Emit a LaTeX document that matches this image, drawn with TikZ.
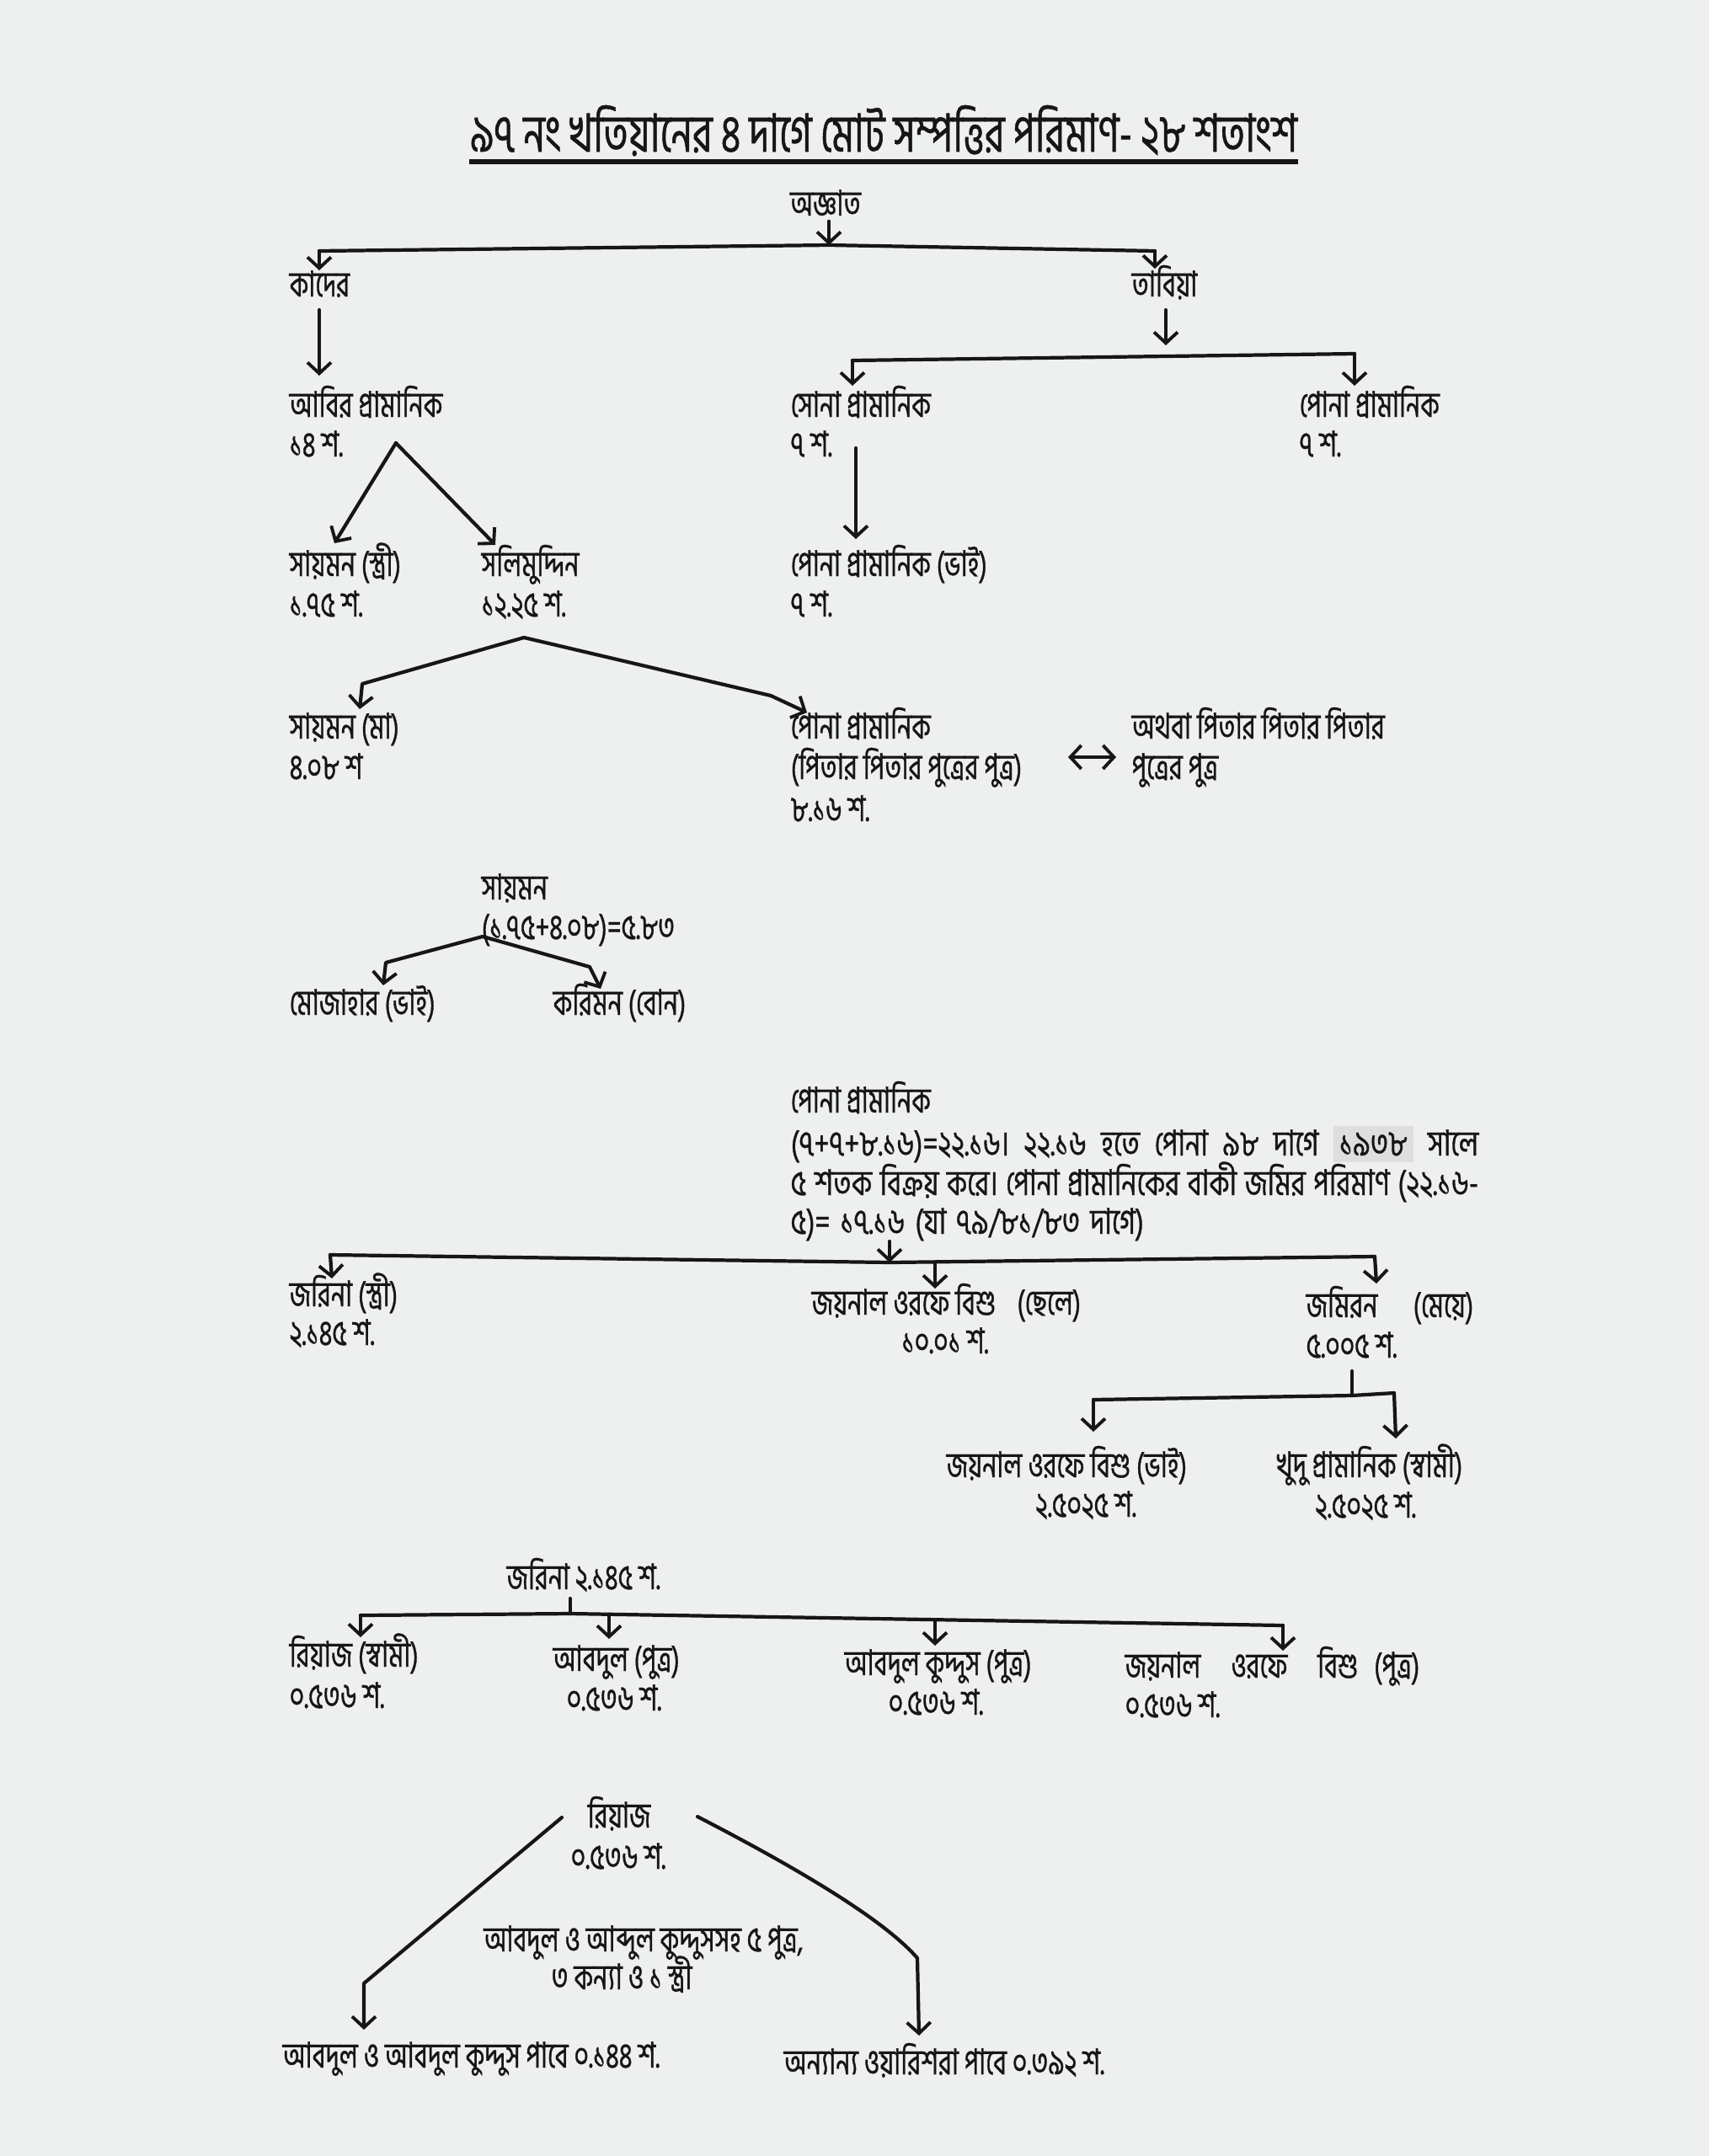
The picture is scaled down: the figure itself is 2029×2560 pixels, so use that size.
\documentclass[tikz,border=0pt]{standalone}
\usepackage{fontspec}
\newfontfamily\bn[Script=Bengali,FakeStretch=0.72,FakeBold=0.8]{Hind Siliguri}
\newfontfamily\bnw[Script=Bengali,FakeStretch=0.77,FakeBold=0.8]{Hind Siliguri}
\usetikzlibrary{arrows.meta,calc}
\definecolor{paper}{RGB}{238,239,239}
\definecolor{ink}{RGB}{22,22,22}
\definecolor{hl}{RGB}{222,222,222}
\tikzset{
  txt/.style={font=\bn\fontsize{12}{14}\selectfont, text=ink, inner sep=0pt, anchor=base west},
  txtc/.style={txt, anchor=base},
  para/.style={txt, font=\bnw\fontsize{12}{14}\selectfont},
  ttl/.style={font=\bn\fontsize{17.8}{20}\selectfont, text=ink, inner sep=0pt, anchor=base},
  ln/.style={draw=ink, line width=1.2pt, line cap=round, line join=round},
  arr/.style={ln, -{Straight Barb[length=0.13cm,width=0.28cm,line width=1.1pt]}},
  dblarr/.style={ln, {Straight Barb[length=0.13cm,width=0.28cm,line width=1.1pt]}-{Straight Barb[length=0.13cm,width=0.28cm,line width=1.1pt]}}
}
\begin{document}
\begin{tikzpicture}[x=0.01cm,y=-0.01cm]
\fill[paper] (0,0) rectangle (2029,2560);
\useasboundingbox (0,0) rectangle (2029,2560);

% title
\node[ttl] (title) at (1049,180) {৯৭ নং খতিয়ানের ৪ দাগে মোট সম্পত্তির পরিমাণ- ২৮ শতাংশ};
\draw[ink, line width=1.8pt] ($(title.base west)+(0,12)$) -- ($(title.base east)+(0,12)$);

% level 0
\node[txtc] (unk) at (980,256) {অজ্ঞাত};
\coordinate (b1L) at (379,298);
\coordinate (b1M) at (984,291);
\coordinate (b1R) at (1371,298);
\draw[arr] ($(unk.south)+(4,6)$) -- (b1M);
\draw[ln] (b1L) -- (b1M) -- (b1R);
\coordinate (kaderT) at (379,321);
\coordinate (tabiyaT) at (1371,319);
\draw[arr] (b1L) -- (kaderT);
\draw[arr] (b1R) -- (tabiyaT);

\node[txt] (kader) at (343,352) {কাদের};
\node[txt] (tabiya) at (1343,352) {তাবিয়া};

\coordinate (abirT) at (379,446);
\draw[arr] (379,368) -- (abirT);
\coordinate (tabB) at (1384,410);
\draw[arr] (1384,368) -- (tabB);

\coordinate (b2L) at (1012,428);
\coordinate (b2R) at (1608,420);
\draw[ln] (b2L) -- (b2R);
\draw[arr] (b2L) -- (1012,458);
\draw[arr] (b2R) -- (1608,458);

% row 3
\node[txt] (abir) at (343,495) {আবির প্রামানিক};
\node[txt] (abirS) at (343,542) {১৪ শ.};
\node[txt] (sona) at (938,495) {সোনা প্রামানিক};
\node[txt] (sonaS) at (938,542) {৭ শ.};
\node[txt] (pona1) at (1542,495) {পোনা প্রামানিক};
\node[txt] (pona1S) at (1542,542) {৭ শ.};

\coordinate (A1) at (470,526);
\draw[arr] (A1) -- (397,645);
\draw[arr] (A1) -- (588,647);
\draw[arr] (1016,532) -- (1016,640);

% row 4
\node[txt] (saym1) at (343,684) {সায়মন (স্ত্রী)};
\node[txt] (saym1S) at (343,732) {১.৭৫ শ.};
\node[txt] (salim) at (571,684) {সলিমুদ্দিন};
\node[txt] (salimS) at (571,732) {১২.২৫ শ.};
\node[txt] (pona2) at (938,684) {পোনা প্রামানিক (ভাই)};
\node[txt] (pona2S) at (938,732) {৭ শ.};

\coordinate (A2) at (622,757);
\draw[arr] (A2) -- (430,812) -- (427,842);
\draw[arr] (A2) -- (915,826) -- (958,846);

% row 5
\node[txt] (saym2) at (343,877) {সায়মন (মা)};
\node[txt] (saym2S) at (343,925) {৪.০৮ শ};
\node[txt] (pona3) at (938,877) {পোনা প্রামানিক};
\node[txt] (pona3R) at (938,925) {(পিতার পিতার পুত্রের পুত্র)};
\node[txt] (pona3S) at (938,975) {৮.১৬ শ.};
\node[txt] (alt1) at (1343,877) {অথবা পিতার পিতার পিতার};
\node[txt] (alt2) at (1343,925) {পুত্রের পুত্র};
\coordinate (dL) at (1268,899);
\coordinate (dR) at (1325,899);
\draw[dblarr] (dL) -- (dR);

% sayman
\node[txt] (saym3) at (571,1068) {সায়মন};
\node[txt] (saym3S) at (571,1115) {(১.৭৫+৪.০৮)=৫.৮৩};
\coordinate (A3) at (573,1112);
\draw[arr] (A3) -- (458,1143) -- (455,1170);
\draw[arr] (A3) -- (700,1148) -- (713,1174);
\node[txt] (moja) at (343,1205) {মোজাহার (ভাই)};
\node[txt] (karim) at (656,1205) {করিমন (বোন)};

% pona block
\node[txt] (pona4) at (938,1321) {পোনা প্রামানিক};
\node[para] (para1) at (938,1372) {\makebox[8.16cm][s]{(৭+৭+৮.১৬)=২২.১৬। ২২.১৬ হতে পোনা ৯৮ দাগে {\setlength\fboxsep{2pt}\colorbox{hl}{১৯৩৮}} সালে}};
\node[para] (para2) at (938,1419) {\makebox[8.16cm][s]{৫ শতক বিক্রয় করে। পোনা প্রামানিকের বাকী জমির পরিমাণ (২২.১৬-}};
\node[para] (para3) at (938,1465) {\makebox[4.19cm][s]{৫)= ১৭.১৬ (যা ৭৯/৮১/৮৩ দাগে)}};
\coordinate (b3L) at (392,1490);
\coordinate (b3M) at (1056,1499);
\coordinate (b3R) at (1632,1492);
\draw[arr] (1056,1474) -- (b3M);
\draw[ln] (b3L) -- (b3M) -- (b3R);
\draw[arr] (b3L) -- (394,1518);
\draw[arr] (1110,1499) -- (1110,1530);
\draw[arr] (b3R) -- (1634,1524);

\node[txt] (jor1) at (343,1551) {জরিনা (স্ত্রী)};
\node[txt] (jor1S) at (343,1597) {২.১৪৫ শ.};
\node[txt] (joy1) at (963,1561) {জয়নাল ওরফে বিশু\hspace{0.6em}(ছেলে)};
\node[txtc] (joy1S) at (1122,1607) {১০.০১ শ.};
\node[txt] (jomi) at (1550,1564) {জমিরন\hspace{1em}(মেয়ে)};
\node[txt] (jomiS) at (1550,1612) {৫.০০৫ শ.};

\coordinate (s4) at (1605,1657);
\draw[ln] (1605,1628) -- (s4);
\coordinate (b4L) at (1298,1662);
\coordinate (b4R) at (1655,1654);
\draw[ln] (b4L) -- (s4) -- (b4R);
\draw[arr] (b4L) -- (1298,1700);
\draw[arr] (b4R) -- (1657,1708);
\node[txt] (joy2) at (1123,1754) {জয়নাল ওরফে বিশু (ভাই)};
\node[txtc] (joy2S) at (1289,1801) {২.৫০২৫ শ.};
\node[txt] (khudu) at (1515,1754) {খুদু প্রামানিক (স্বামী)};
\node[txtc] (khuduS) at (1621,1802) {২.৫০২৫ শ.};

% jorina block
\node[txt] (jor2) at (601,1887) {জরিনা ২.১৪৫ শ.};
\coordinate (b5L) at (428,1918);
\coordinate (b5M) at (677,1916);
\coordinate (b5R) at (1523,1930);
\draw[ln] (677,1898) -- (b5M);
\draw[ln] (b5L) -- (b5M) -- (b5R);
\draw[arr] (b5L) -- (428,1944);
\draw[arr] (723,1917) -- (723,1946);
\draw[arr] (1110,1924) -- (1110,1954);
\draw[arr] (b5R) -- (1523,1960);

\node[txt] (riaz1) at (343,1979) {রিয়াজ (স্বামী)};
\node[txt] (riaz1S) at (343,2028) {০.৫৩৬ শ.};
\node[txt] (abd1) at (656,1984) {আবদুল (পুত্র)};
\node[txt] (abd1S) at (672,2031) {০.৫৩৬ শ.};
\node[txt] (abk1) at (1002,1989) {আবদুল কুদ্দুস (পুত্র)};
\node[txt] (abk1S) at (1054,2036) {০.৫৩৬ শ.};
\node[txt] (joy3) at (1335,1992) {জয়নাল\hspace{0.85em}ওরফে\hspace{0.85em}বিশু\hspace{0.45em}(পুত্র)};
\node[txt] (joy3S) at (1335,2039) {০.৫৩৬ শ.};

% riaz block
\node[txtc] (riaz2) at (735,2170) {রিয়াজ};
\node[txtc] (riaz2S) at (734,2219) {০.৫৩৬ শ.};
\draw[arr] (667,2158) -- (432,2355) -- (432,2410);
\draw[arr] (828,2157) .. controls (950,2220) and (1050,2280) .. (1089,2325) -- (1091,2417);
\node[txtc] (mid1) at (764,2317) {আবদুল ও আব্দুল কুদ্দুসসহ ৫ পুত্র,};
\node[txtc] (mid2) at (738,2362) {৩ কন্যা ও ১ স্ত্রী};
\node[txt] (bot1) at (335,2455) {আবদুল ও আবদুল কুদ্দুস পাবে ০.১৪৪ শ.};
\node[txt] (bot2) at (930,2463) {অন্যান্য ওয়ারিশরা পাবে ০.৩৯২ শ.};
\end{tikzpicture}
\end{document}
